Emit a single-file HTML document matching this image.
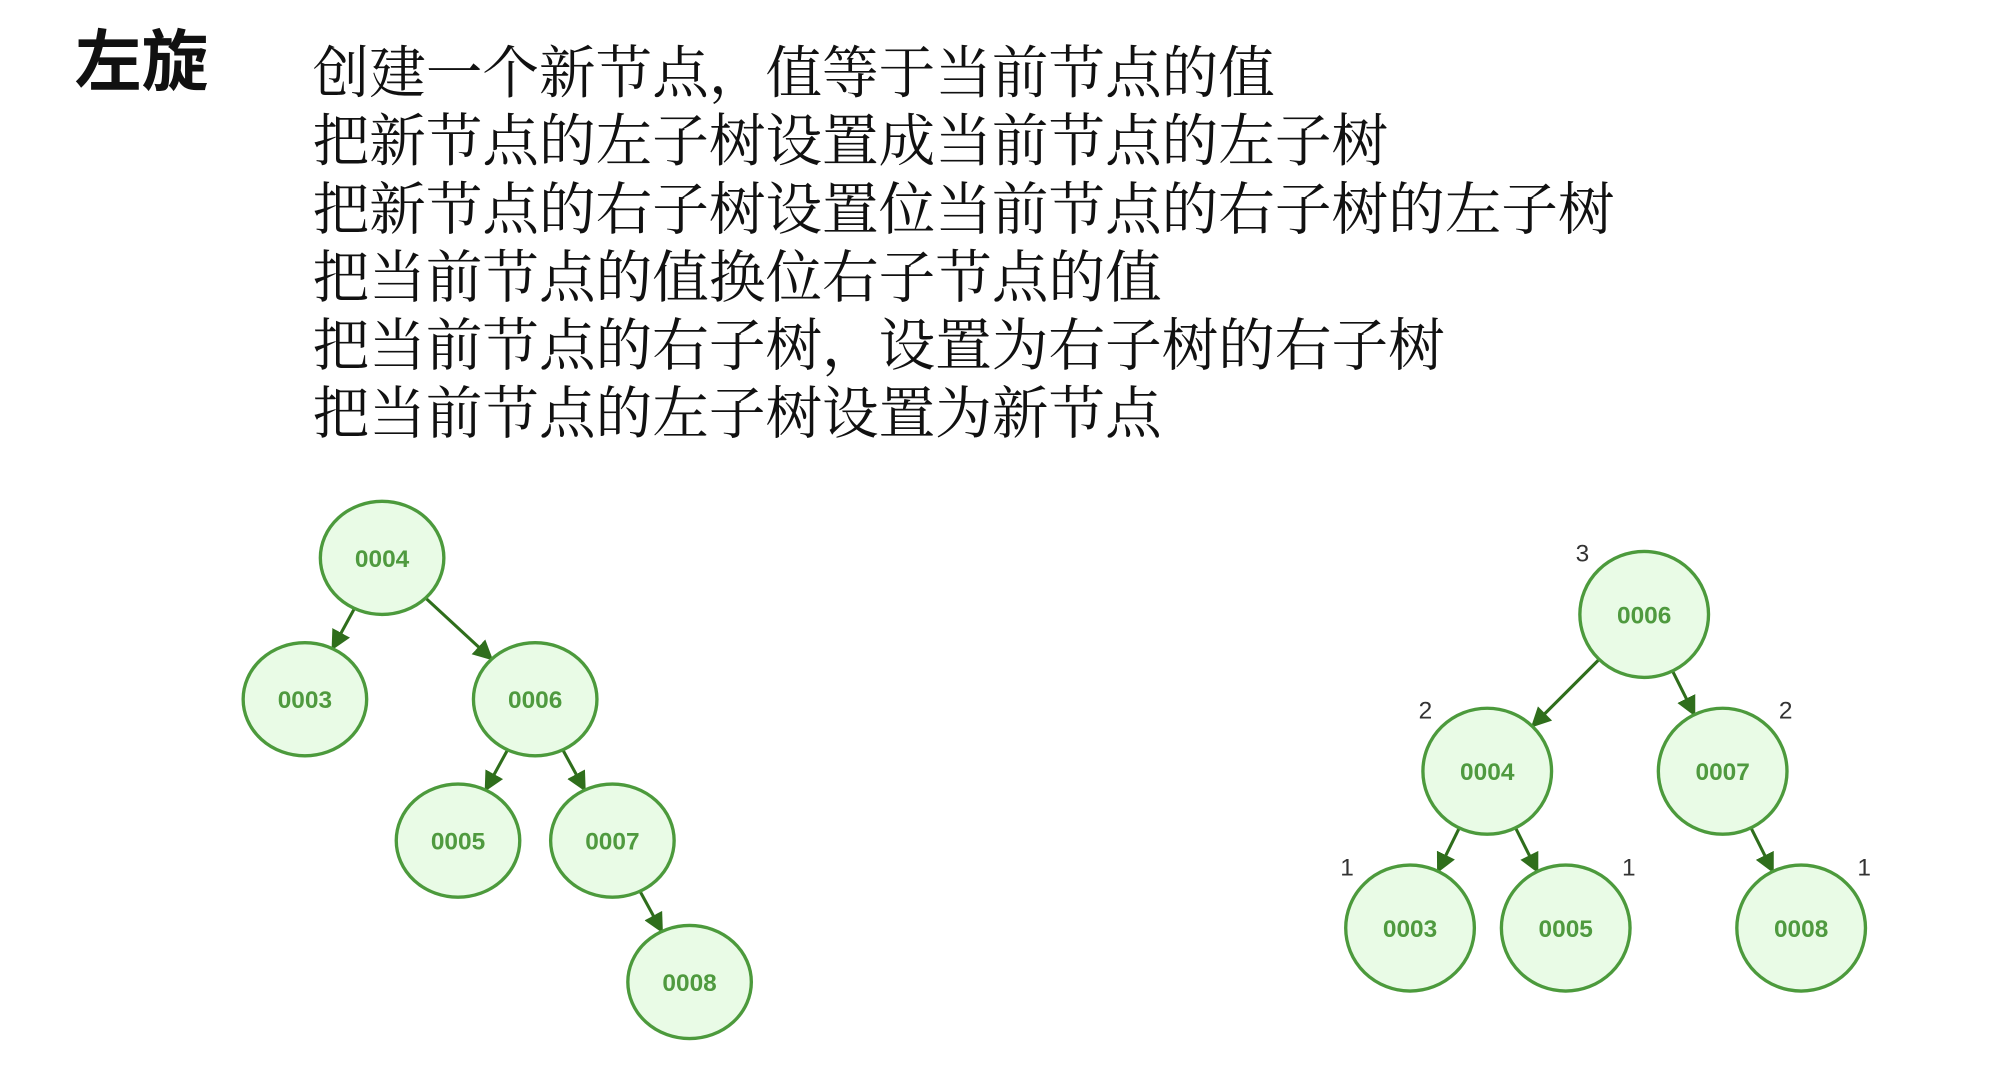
<!DOCTYPE html>
<html><head><meta charset="utf-8"><style>
html,body{margin:0;padding:0;background:#fff;width:2016px;height:1090px;overflow:hidden}
svg{display:block}
.t{font-family:"Liberation Serif","Noto Serif CJK SC","Noto Sans CJK SC",serif;fill:#111}
.n{font-family:"Liberation Sans",sans-serif;font-weight:bold;font-size:19px;fill:#4f9a3f;text-anchor:middle}
.l{font-family:"Liberation Sans",sans-serif;font-size:19px;fill:#333;text-anchor:middle}
</style></head><body>
<svg id="s" width="2016" height="1090" viewBox="0 0 1567 848" preserveAspectRatio="none" xmlns="http://www.w3.org/2000/svg">
<defs><marker id="a" viewBox="0 0 10 10" refX="9" refY="5" markerWidth="6.5" markerHeight="6.5" orient="auto"><path d="M0,0 L10,5 L0,10 z" fill="#2f6e1c"/></marker></defs>
<text x="58" y="66" font-size="52" font-weight="bold" style="font-family:'Noto Sans CJK SC',sans-serif;fill:#111">左旋</text>
<g class="t" font-size="44">
<text x="243" y="72">创建一个新节点，值等于当前节点的值</text>
<text x="243" y="125">把新节点的左子树设置成当前节点的左子树</text>
<text x="243" y="178">把新节点的右子树设置位当前节点的右子树的左子树</text>
<text x="243" y="231">把当前节点的值换位右子节点的值</text>
<text x="243" y="284">把当前节点的右子树，设置为右子树的右子树</text>
<text x="243" y="337">把当前节点的左子树设置为新节点</text>
</g>
<g id="e"></g><g id="g"></g>
<g class="l"><text x="1230" y="437">3</text><text x="1108" y="559">2</text><text x="1388" y="559">2</text><text x="1047" y="681">1</text><text x="1266" y="681">1</text><text x="1449" y="681">1</text></g>
</svg>
<script>
var N={a4:[297,434,'0004'],a3:[237,544,'0003'],a6:[416,544,'0006'],a5:[356,654,'0005'],a7:[476,654,'0007'],a8:[536,764,'0008'],
b6:[1278,478,'0006'],b4:[1156,600,'0004'],b7:[1339,600,'0007'],b3:[1096,722,'0003'],b5:[1217,722,'0005'],b8:[1400,722,'0008']};
var E=[['a4','a3'],['a4','a6'],['a6','a5'],['a6','a7'],['a7','a8'],['b6','b4'],['b6','b7'],['b4','b3'],['b4','b5'],['b7','b8']];
var h='';
function R(k){return k[0]=='a'?[48,44]:[50,49];}
function bd(c,r,dx,dy){var t=1/Math.sqrt(dx*dx/(r[0]*r[0])+dy*dy/(r[1]*r[1]));return [c[0]+dx*t,c[1]+dy*t];}
E.forEach(function(e){var p=N[e[0]],q=N[e[1]],r=R(e[0]),dx=q[0]-p[0],dy=q[1]-p[1];var s=bd(p,r,dx,dy),t=bd(q,r,-dx,-dy);
h+='<line x1="'+s[0]+'" y1="'+s[1]+'" x2="'+t[0]+'" y2="'+t[1]+'" stroke="#2f6e1c" stroke-width="2.4" marker-end="url(#a)"/>';});
document.getElementById('e').innerHTML=h;h='';
for(var k in N){var c=N[k],r=R(k);h+='<ellipse cx="'+c[0]+'" cy="'+c[1]+'" rx="'+r[0]+'" ry="'+r[1]+'" fill="#e9fbe6" stroke="#4c9a3c" stroke-width="2.6"/><text class="n" x="'+c[0]+'" y="'+(c[1]+7)+'">'+c[2]+'</text>';}
document.getElementById('g').innerHTML=h;
</script>
</body></html>
